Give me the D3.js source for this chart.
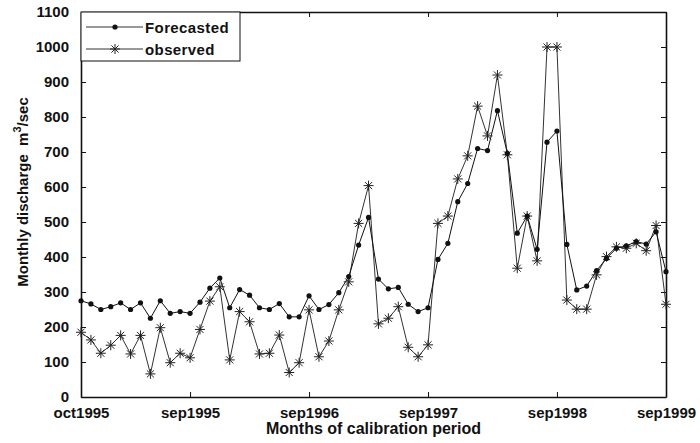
<!DOCTYPE html>
<html>
<head>
<meta charset="utf-8">
<script src="https://cdn.jsdelivr.net/npm/d3@7"></script>
<style>
  html, body { margin: 0; padding: 0; background: #fff; }
  svg { display: block; font-family: "Liberation Sans", Arial, sans-serif; }
</style>
</head>
<body>
<svg id="chart" width="700" height="443"></svg>
<script>
// Monthly discharge (m^3/sec), 60 months of the calibration period
const forecasted = [275,266,250,258,269,250,269,225,275,239,244,239,271,311,340,255,307,
  291,255,250,267,229,229,289,250,264,298,344,434,513,
  337,309,313,265,244,255,393,439,558,610,710,704,818,696,
  468,517,422,728,760,436,306,317,361,396,425,432,444,437,472,358];
const observed = [185,163,125,148,176,123,176,66,198,98,125,112,193,274,315,106,244,
  215,123,125,177,70,98,249,115,160,249,329,496,604,
  209,225,258,142,115,149,496,517,623,689,831,746,920,692,
  368,517,389,1000,1000,277,251,251,349,401,429,425,439,418,490,265];

const xTickIndex = [0, 11, 23, 35, 48, 59];
const xTickLabels = ["oct1995", "sep1995", "sep1996", "sep1997", "sep1998", "sep1999"];
const yTicks = [0,100,200,300,400,500,600,700,800,900,1000,1100];

const svg = d3.select("#chart");
const margin = {left: 81, right: 34, top: 12, bottom: 46};
const W = 700, H = 443;
const x0 = margin.left, x1 = W - margin.right, y0 = H - margin.bottom, y1 = margin.top;

const x = d3.scaleLinear().domain([0, forecasted.length - 1]).range([x0, x1]);
const y = d3.scaleLinear().domain([0, 1100]).range([y0, y1]);

const ink = "#111";
const tickLen = 5;

// Axes: ticks drawn inward on all four sides
const fontSize = 15;
const bottomAxis = d3.axisBottom(x).tickValues(xTickIndex)
  .tickFormat((d, i) => xTickLabels[i]).tickSizeInner(-tickLen).tickSizeOuter(0).tickPadding(10);
const topAxis = d3.axisTop(x).tickValues(xTickIndex).tickFormat("").tickSizeInner(-tickLen).tickSizeOuter(0);
const leftAxis = d3.axisLeft(y).tickValues(yTicks).tickFormat(d3.format("d"))
  .tickSizeInner(-tickLen).tickSizeOuter(0).tickPadding(12);
const rightAxis = d3.axisRight(y).tickValues(yTicks).tickFormat("").tickSizeInner(-tickLen).tickSizeOuter(0);

function styleAxis(g) {
  g.select(".domain").attr("stroke", ink).attr("stroke-width", 1.6);
  g.selectAll(".tick line").attr("stroke", ink).attr("stroke-width", 1);
  g.selectAll(".tick text").attr("fill", ink).attr("font-size", fontSize)
    .attr("font-weight", "bold").attr("font-family", "Liberation Sans, Arial, sans-serif");
}

svg.append("g").attr("transform", `translate(0,${y0})`).call(bottomAxis).call(styleAxis);
svg.append("g").attr("transform", `translate(0,${y1})`).call(topAxis).call(styleAxis);
svg.append("g").attr("transform", `translate(${x0},0)`).call(leftAxis).call(styleAxis);
svg.append("g").attr("transform", `translate(${x1},0)`).call(rightAxis).call(styleAxis);

// Series lines
const line = d3.line().x((d, i) => x(i)).y(d => y(d));
svg.append("path").datum(observed).attr("d", line)
  .attr("fill", "none").attr("stroke", "#333").attr("stroke-width", 1);
svg.append("path").datum(forecasted).attr("d", line)
  .attr("fill", "none").attr("stroke", ink).attr("stroke-width", 1);

// Asterisk marker: horizontal, vertical and two diagonal strokes
function asterisk(g, cx, cy, r) {
  const d = r * Math.SQRT1_2;
  g.append("path")
    .attr("d", `M${cx - r},${cy}L${cx + r},${cy}M${cx},${cy - r}L${cx},${cy + r}` +
               `M${cx - d},${cy - d}L${cx + d},${cy + d}M${cx - d},${cy + d}L${cx + d},${cy - d}`)
    .attr("stroke", "#222").attr("stroke-width", 1).attr("fill", "none");
}

const obsG = svg.append("g");
observed.forEach((v, i) => asterisk(obsG, x(i), y(v), 5));

svg.append("g").selectAll("circle").data(forecasted).join("circle")
  .attr("cx", (d, i) => x(i)).attr("cy", d => y(d)).attr("r", 2.6).attr("fill", ink);

// Legend
const lg = svg.append("g");
lg.append("rect").attr("x", x0).attr("y", y1).attr("width", 159).attr("height", 49)
  .attr("fill", "#fff").attr("stroke", ink).attr("stroke-width", 1);
const rows = [{name: "Forecasted", ly: 27, marker: "dot"}, {name: "observed", ly: 49, marker: "star"}];
rows.forEach(r => {
  lg.append("line").attr("x1", 86).attr("x2", 143).attr("y1", r.ly).attr("y2", r.ly)
    .attr("stroke", "#333").attr("stroke-width", 1);
  if (r.marker === "dot") lg.append("circle").attr("cx", 115).attr("cy", r.ly).attr("r", 2.6).attr("fill", ink);
  else asterisk(lg, 115, r.ly, 5);
  lg.append("text").attr("x", 145).attr("y", r.ly + 5.5).text(r.name)
    .attr("font-size", fontSize).attr("font-weight", "bold").attr("fill", ink)
    .attr("letter-spacing", 0.4);
});

// Axis titles
svg.append("text").attr("x", (x0 + x1) / 2).attr("y", 434).attr("text-anchor", "middle")
  .attr("font-size", 16).attr("font-weight", "bold").attr("fill", ink)
  .text("Months of calibration period");

const yl = svg.append("text").attr("transform", `translate(28,192) rotate(-90)`)
  .attr("text-anchor", "middle").attr("font-size", 15).attr("font-weight", "bold").attr("fill", ink)
  .style("white-space", "pre");
yl.append("tspan").text("Monthly discharge\u00a0\u00a0m");
yl.append("tspan").attr("font-size", 11).attr("dy", -7).text("3");
yl.append("tspan").attr("dy", 7).text("/sec");
</script>
</body>
</html>
